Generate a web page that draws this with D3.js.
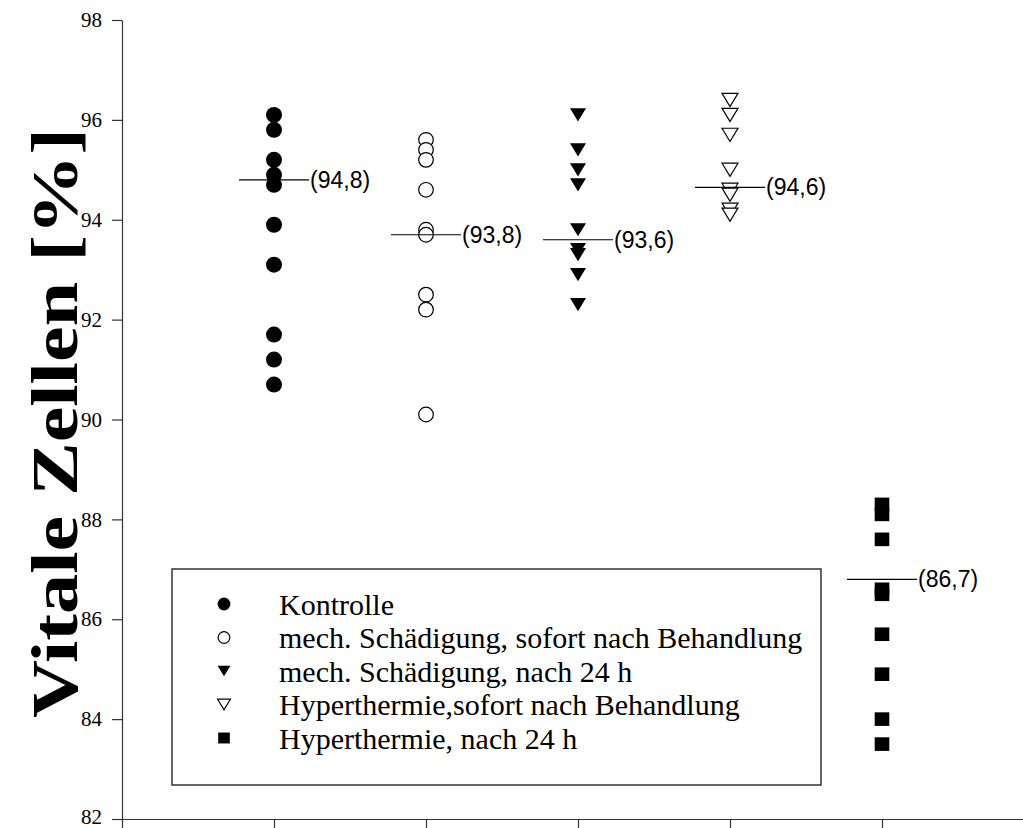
<!DOCTYPE html>
<html>
<head>
<meta charset="utf-8">
<script src="https://cdn.jsdelivr.net/npm/d3@7"></script>
<style>
  html, body { margin: 0; padding: 0; background: #fff; }
  svg { display: block; }
</style>
</head>
<body>
<svg id="chart" width="1023" height="828"></svg>
<script>
// ---- data ----
const categories = ["Kontrolle", "mech. Schädigung, sofort nach Behandlung", "mech. Schädigung, nach 24 h", "Hyperthermie,sofort nach Behandlung", "Hyperthermie, nach 24 h"];
const kontrolle   = [96.1, 95.8, 95.2, 94.9, 94.7, 93.9, 93.1, 91.7, 91.2, 90.7];
const mechSofort  = [95.6, 95.4, 95.2, 94.6, 93.8, 93.7, 92.5, 92.2, 90.1];
const mech24      = [96.1, 95.4, 95.0, 94.7, 93.8, 93.4, 93.3, 92.9, 92.3];
const hyperSofort = [96.4, 96.1, 95.7, 95.0, 94.6, 94.5, 94.2, 94.1];
const hyper24     = [88.3, 88.1, 87.6, 86.6, 86.5, 85.7, 84.9, 84.0, 83.5];
const medianValues = [94.8, 93.7, 93.6, 94.65, 86.8];
const medianLabels = ["(94,8)", "(93,8)", "(93,6)", "(94,6)", "(86,7)"];
const yTicks = [82, 84, 86, 88, 90, 92, 94, 96, 98];
const yTitle = "Vitale Zellen [%]";

const seriesValues = [kontrolle, mechSofort, mech24, hyperSofort, hyper24];
const symbols = ["circleFilled", "circleOpen", "triFilled", "triOpen", "square"];

// ---- scales ----
const svg = d3.select("#chart");
const x = d3.scaleLinear().domain([0, 6]).range([122, 1034]);
const y = d3.scaleLinear().domain([82, 98]).range([819, 20]);

const serif = "'Liberation Serif', 'Times New Roman', serif";
const sans = "'Liberation Sans', Arial, sans-serif";

// ---- axes ----
const yAxis = svg.append("g")
  .attr("transform", `translate(${x(0)},0)`)
  .call(d3.axisLeft(y).tickValues(yTicks).tickSize(10).tickSizeOuter(0).tickPadding(10).tickFormat(d3.format("d")));
yAxis.selectAll("path, line").attr("stroke", "#333").attr("stroke-width", 1.2);
yAxis.selectAll("text")
  .attr("font-family", serif).attr("font-size", 21).attr("fill", "#000")
  .attr("dy", d => d === 82 ? "0.22em" : "0.32em");

const xAxis = svg.append("g")
  .attr("transform", `translate(0,${y(82)})`)
  .call(d3.axisBottom(x).tickValues([0, 1, 2, 3, 4, 5]).tickSize(10).tickSizeOuter(0).tickFormat(""));
xAxis.selectAll("path, line").attr("stroke", "#333").attr("stroke-width", 1.2);

// ---- y title ----
svg.append("text")
  .attr("transform", `translate(77,${(128 + 718) / 2}) rotate(-90)`)
  .attr("text-anchor", "middle")
  .attr("font-family", serif)
  .attr("font-weight", "bold")
  .attr("font-size", 66)
  .attr("textLength", 590)
  .attr("lengthAdjust", "spacingAndGlyphs")
  .text(yTitle);

// ---- symbol drawing ----
function drawSymbol(g, type, cx, cy, scale) {
  const s = scale || 1;
  if (type === "circleFilled") {
    g.append("circle").attr("cx", cx).attr("cy", cy).attr("r", 8 * s).attr("fill", "#000");
  } else if (type === "circleOpen") {
    g.append("circle").attr("cx", cx).attr("cy", cy).attr("r", 7.3 * s).attr("fill", "#fff").attr("stroke", "#000").attr("stroke-width", 1.2);
  } else if (type === "triFilled" || type === "triOpen") {
    const w = 8 * s, h = 6.6 * s;
    const p = `M${cx - w},${cy - h}L${cx + w},${cy - h}L${cx},${cy + h}Z`;
    if (type === "triFilled") g.append("path").attr("d", p).attr("fill", "#000");
    else g.append("path").attr("d", p).attr("fill", "#fff").attr("stroke", "#000").attr("stroke-width", 1.2);
  } else if (type === "square") {
    const hw = 7.3 * s, hh = 6.8 * s;
    g.append("rect").attr("x", cx - hw).attr("y", cy - hh).attr("width", 2 * hw).attr("height", 2 * hh).attr("fill", "#000");
  }
}

// ---- points ----
const pts = svg.append("g");
seriesValues.forEach((vals, i) => {
  vals.forEach(v => drawSymbol(pts, symbols[i], x(i + 1), y(v), 1));
});

// ---- median lines + labels ----
const med = svg.append("g");
medianValues.forEach((m, i) => {
  const cx = x(i + 1);
  med.append("line")
    .attr("x1", cx - 35).attr("x2", cx + 35)
    .attr("y1", y(m)).attr("y2", y(m))
    .attr("stroke", "#000").attr("stroke-width", 1.2);
  med.append("text")
    .attr("x", cx + 36).attr("y", y(m))
    .attr("dy", "0.35em")
    .attr("font-family", sans).attr("font-size", 23)
    .attr("fill", "#000")
    .text(medianLabels[i]);
});

// ---- legend ----
const lg = svg.append("g");
lg.append("rect").attr("x", 172).attr("y", 569).attr("width", 649).attr("height", 216)
  .attr("fill", "#fff").attr("stroke", "#333").attr("stroke-width", 1.5);
categories.forEach((c, i) => {
  const ry = 604 + i * 33.5;
  drawSymbol(lg, symbols[i], 224, ry, 0.8);
  lg.append("text").attr("x", 279).attr("y", ry).attr("dy", "0.35em")
    .attr("font-family", serif).attr("font-size", 30).attr("fill", "#000")
    .text(c);
});
</script>
</body>
</html>
